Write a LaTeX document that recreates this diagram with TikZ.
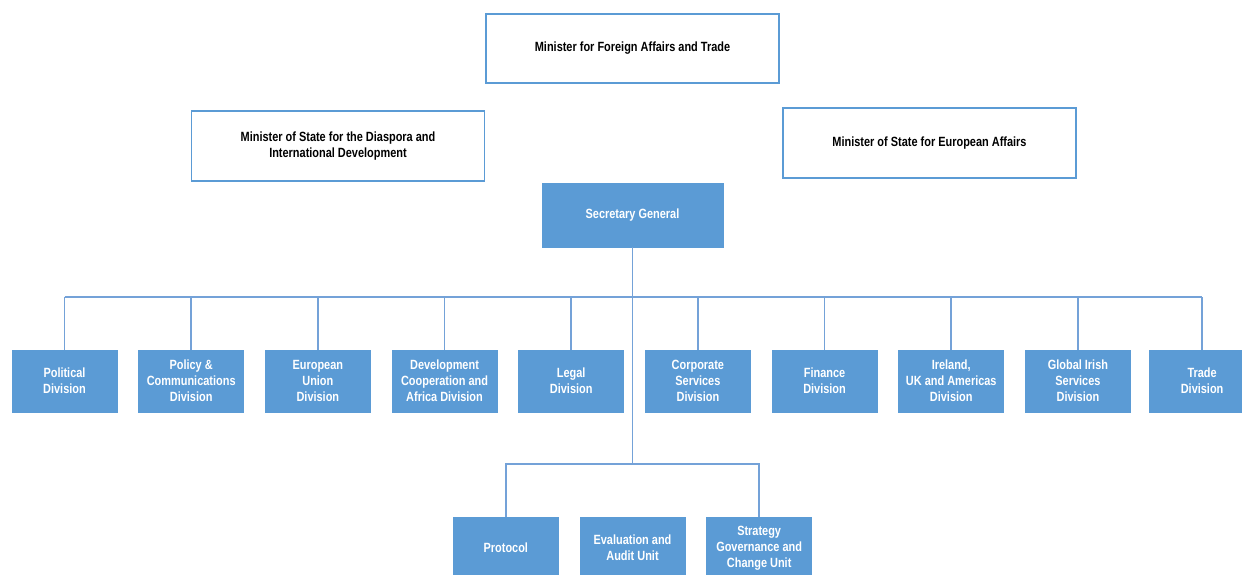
\documentclass[tikz,border=0pt]{standalone}
\usepackage{fontspec}
\setmainfont{Liberation Sans}[FakeStretch=0.82]
\usepackage{tikz}
\usetikzlibrary{positioning}
\definecolor{orgblue}{HTML}{5B9BD5}
\definecolor{orgline}{HTML}{74A2D8}
\tikzset{
  minister/.style={draw=orgblue, line width=0.7pt, fill=white, inner sep=0pt, align=center,
    minimum width=5.86cm, minimum height=1.38cm, font=\bfseries\fontsize{7.6}{9.6}\selectfont},
  bluebox/.style={fill=orgblue, draw=orgblue, inner sep=0pt, align=center, text=white,
    font=\bfseries\fontsize{7.6}{9.2}\selectfont},
  division/.style={bluebox, minimum width=2.1cm, minimum height=1.24cm},
  orgconn/.style={draw=orgline, line width=0.9pt}
}
\begin{document}
\begin{tikzpicture}[x=0.02cm, y=-0.02cm]

\useasboundingbox (0,0) rectangle (1242,575);
\clip (0,0) rectangle (1242,575);

\node[minister] (mfat) at (632.5,48.5) {Minister for Foreign Affairs and Trade};
\node[minister, minimum height=1.4cm] (diasp) at (338,146) {Minister of State for the Diaspora and\\International Development};
\node[minister, minimum height=1.4cm] (euro) at (929.5,143) {Minister of State for European Affairs};

\node[bluebox, minimum width=3.62cm, minimum height=1.28cm] (secgen) at (632.5,215) {Secretary General};

% divisions
\node[division] (pol) at (64.5,381) {Political\\Division};
\node[division, right=0.42cm of pol] (polcom) {Policy \&\\Communications\\Division};
\node[division, right=0.42cm of polcom] (eu) {European\\Union\\Division};
\node[division, right=0.42cm of eu] (dev) {Development\\Cooperation and\\Africa Division};
\node[division, right=0.42cm of dev] (legal) {Legal\\Division};
\node[division, right=0.42cm of legal] (corp) {Corporate\\Services\\Division};
\node[division, right=0.42cm of corp] (fin) {Finance\\Division};
\node[division, right=0.42cm of fin] (iuka) {Ireland,\\UK and Americas\\Division};
\node[division, right=0.42cm of iuka] (gis) {Global Irish\\Services\\Division};
\node[division, right=0.37cm of gis] (trade) {Trade\\Division};

% units
\node[division] (eval) at (632.5,548) {Evaluation and\\Audit Unit};
\node[division, left=0.42cm of eval] (prot) {Protocol};
\node[division, right=0.42cm of eval] (strat) {Strategy\\Governance and\\Change Unit};

\coordinate (divbus) at (632.5,297);
\coordinate (unitbus) at (632.5,464);

\draw[orgconn] (secgen.south) -- (unitbus);
\draw[orgconn] (pol.north |- divbus) -- (trade.north |- divbus);
\foreach \d in {pol,polcom,eu,dev,legal,corp,fin,iuka,gis,trade}
  \draw[orgconn] (\d.north) -- (\d.north |- divbus);
\draw[orgconn] (prot.north) -- (prot.north |- unitbus) -- (strat.north |- unitbus) -- (strat.north);

\end{tikzpicture}
\end{document}
